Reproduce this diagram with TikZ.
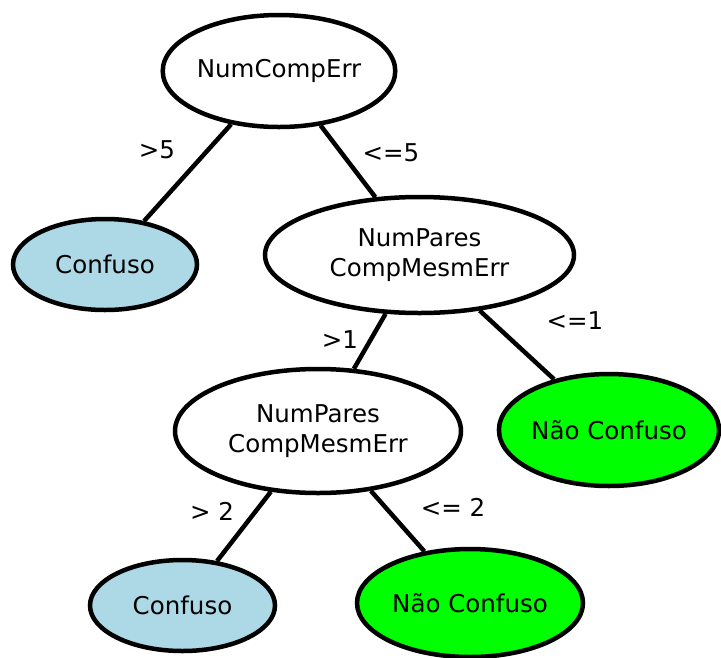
\documentclass[tikz,border=0pt]{standalone}
\usepackage{fontspec}
\setmainfont{DejaVu Sans}
\usetikzlibrary{shapes.geometric}
\definecolor{leafblue}{HTML}{ADD8E6}
\definecolor{leafgreen}{HTML}{00FF00}
\begin{document}
\begin{tikzpicture}[x=1pt,y=-1pt,
  every node/.style={font=\fontsize{24.5}{30}\selectfont},
  tnode/.style={ellipse,draw=black,line width=4.5pt,inner sep=0pt,align=center,fill=white},
  bluenode/.style={tnode,fill=leafblue},
  greennode/.style={tnode,fill=leafgreen},
  edge/.style={line width=4.5pt,draw=black},
  lbl/.style={inner sep=0pt}]
\useasboundingbox (0,0) rectangle (721,657);
\node[tnode,minimum width=230pt,minimum height=112pt] (root) at (279,71) {NumCompErr};
\node[bluenode,minimum width=184pt,minimum height=91pt] (c1) at (105,264.5) {Confuso};
\node[tnode,minimum width=309pt,minimum height=116pt] (m1) at (419.5,255) {NumPares\\CompMesmErr};
\node[tnode,minimum width=286pt,minimum height=124pt] (m2) at (318,431) {NumPares\\CompMesmErr};
\node[greennode,minimum width=220pt,minimum height=112pt] (n1) at (609,430) {Não Confuso};
\node[bluenode,minimum width=185pt,minimum height=91pt] (c2) at (182.5,605.5) {Confuso};
\node[greennode,minimum width=226pt,minimum height=108pt] (n2) at (470,603) {Não Confuso};
\draw[edge] (root) -- (c1);
\draw[edge] (root) -- (m1);
\draw[edge] (m1) -- (m2);
\draw[edge] (m1) -- (n1);
\draw[edge] (m2) -- (c2);
\draw[edge] (m2) -- (n2);
\node[lbl] (l1) at (157,150) {>5};
\node[lbl] (l2) at (391,153) {<=5};
\node[lbl] (l3) at (340,340) {>1};
\node[lbl] (l4) at (575,321) {<=1};
\node[lbl] (l5) at (212,511) {> 2};
\node[lbl] (l6) at (453,507) {<= 2};
\end{tikzpicture}
\end{document}
